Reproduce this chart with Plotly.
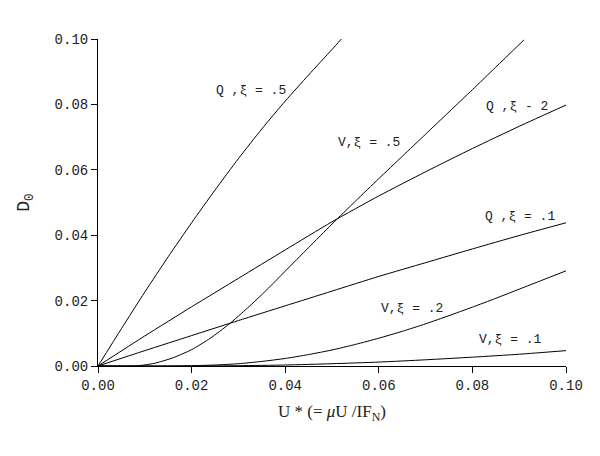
import plotly.graph_objects as go

# Q, xi = .5
q5_x = [0, 0.005, 0.01, 0.015, 0.02, 0.025, 0.03, 0.035, 0.04, 0.045, 0.05, 0.052]
q5_y = [0, 0.0114, 0.0226, 0.0334, 0.0438, 0.0538, 0.0634, 0.0725, 0.0810, 0.0890, 0.0968, 0.1000]

# Q, xi = .2
q2_x = [0, 0.01, 0.02, 0.03, 0.04, 0.05, 0.06, 0.07, 0.08, 0.09, 0.1]
q2_y = [0, 0.0092, 0.0181, 0.0268, 0.0355, 0.0441, 0.0520, 0.0594, 0.0665, 0.0733, 0.0798]

# Q, xi = .1
q1_x = [0, 0.01, 0.02, 0.03, 0.04, 0.05, 0.06, 0.07, 0.08, 0.09, 0.1]
q1_y = [0, 0.0047, 0.0093, 0.0139, 0.0184, 0.0229, 0.0274, 0.0316, 0.0358, 0.0399, 0.0438]

# V, xi = .5
v5_x = [0, 0.008, 0.012, 0.016, 0.02, 0.024, 0.028, 0.032, 0.036, 0.04, 0.045, 0.05, 0.055,
        0.06, 0.065, 0.07, 0.075, 0.08, 0.085, 0.091]
v5_y = [0, 0, 0.0008, 0.0025, 0.0050, 0.0085, 0.0128, 0.0178, 0.0232, 0.0290, 0.0362, 0.0434,
        0.0504, 0.0573, 0.0641, 0.0709, 0.0777, 0.0845, 0.0914, 0.0997]

# V, xi = .2
v2_x = [0, 0.015, 0.02, 0.025, 0.03, 0.035, 0.04, 0.045, 0.05, 0.055, 0.06, 0.065, 0.07,
        0.075, 0.08, 0.085, 0.09, 0.095, 0.1]
v2_y = [0, 0, 0.0001, 0.0003, 0.0007, 0.0014, 0.0023, 0.0035, 0.0049, 0.0066, 0.0085, 0.0106,
        0.0129, 0.0154, 0.0180, 0.0207, 0.0235, 0.0263, 0.0291]

# V, xi = .1
v1_x = [0, 0.02, 0.03, 0.04, 0.05, 0.06, 0.07, 0.08, 0.09, 0.1]
v1_y = [0, 0, 0.0001, 0.0003, 0.0007, 0.0012, 0.0019, 0.0027, 0.0036, 0.0047]

labels = ["Q ,ξ = .5", "V,ξ = .5", "Q ,ξ - 2", "Q ,ξ = .1", "V,ξ = .2", "V,ξ = .1"]
label_x = [0.0327, 0.0579, 0.0895, 0.0902, 0.0671, 0.0882]
label_y = [0.0844, 0.0682, 0.0795, 0.0456, 0.0177, 0.0080]

tick_vals = [0, 0.02, 0.04, 0.06, 0.08, 0.10]
tick_text = ["0.00", "0.02", "0.04", "0.06", "0.08", "0.10"]

FONT = "Liberation Mono, Courier New, monospace"

fig = go.Figure()
for xs, ys in [(q5_x, q5_y), (q2_x, q2_y), (q1_x, q1_y), (v5_x, v5_y), (v2_x, v2_y), (v1_x, v1_y)]:
    fig.add_trace(go.Scatter(x=xs, y=ys, mode="lines",
                             line=dict(color="black", width=1, shape="spline", smoothing=0.6),
                             showlegend=False, hoverinfo="skip"))

for t, x, y in zip(labels, label_x, label_y):
    fig.add_annotation(x=x, y=y, xref="x", yref="y", text=t, showarrow=False,
                       font=dict(family=FONT, size=13, color="#222"))

axis_common = dict(showgrid=False, zeroline=False, showline=True, linecolor="black", linewidth=1,
                   ticks="outside", ticklen=6, tickcolor="black", tickwidth=1,
                   tickvals=tick_vals, ticktext=tick_text, automargin=False,
                   tickfont=dict(family=FONT, size=14, color="#222"))

fig.update_xaxes(range=[0, 0.1],
                 title=dict(text="U * (= <i>μ</i>U /IF<sub>N</sub>)", standoff=12,
                            font=dict(family="Liberation Serif, Times New Roman, serif", size=17, color="#222")),
                 **axis_common)
fig.update_yaxes(range=[0, 0.1],
                 title=dict(text="D<sub>0</sub>", standoff=20,
                            font=dict(family=FONT, size=18, color="#222")),
                 **axis_common)

# the page body adds an 8px offset, so margins are shifted to compensate
fig.update_layout(width=600, height=456, margin=dict(l=90, r=42, t=31, b=98),
                  plot_bgcolor="white", paper_bgcolor="white")

fig.write_html("out.html")
